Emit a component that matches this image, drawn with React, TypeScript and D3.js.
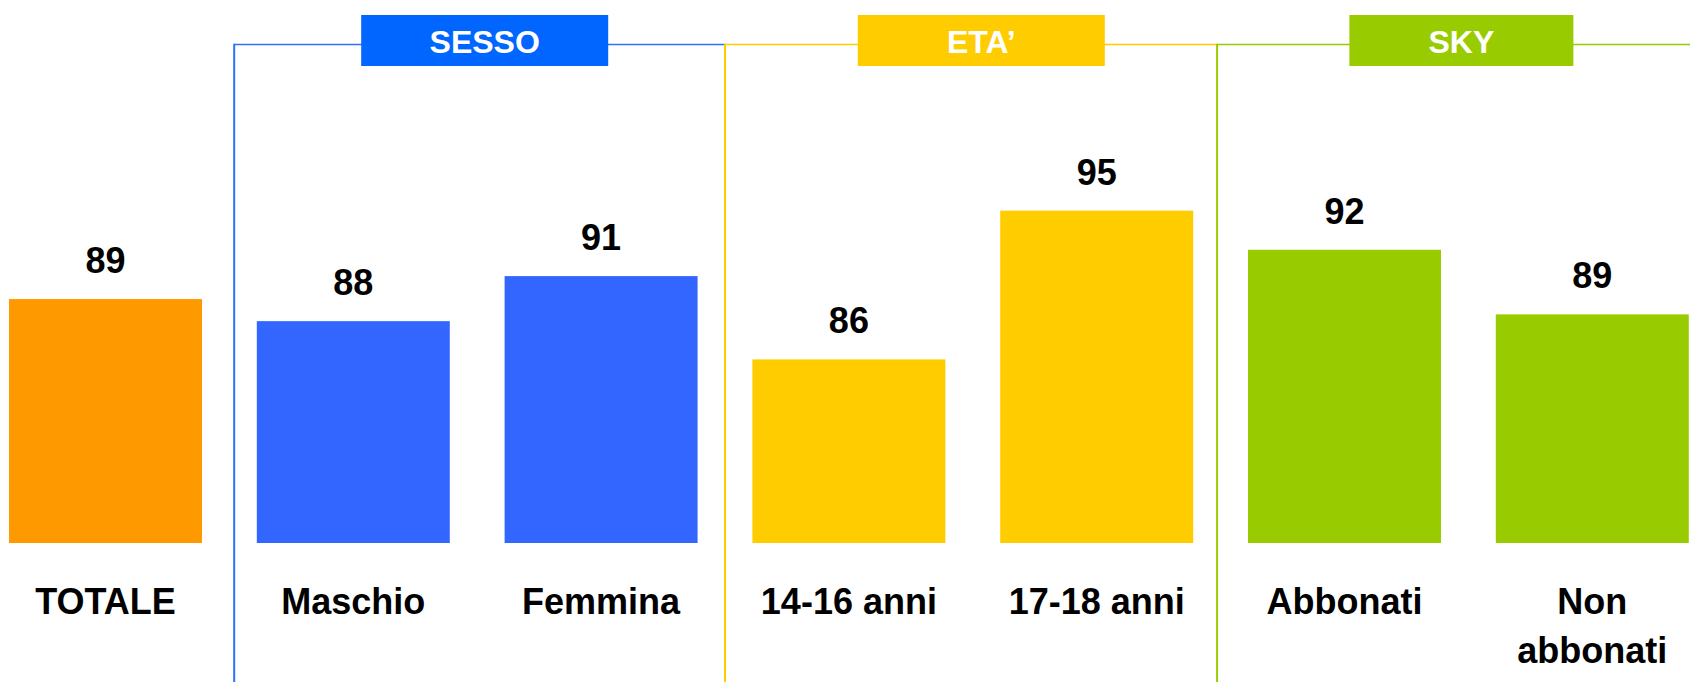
import React from "react";
import * as d3 from "d3";

// ---- data ----
const categories = ["TOTALE", "Maschio", "Femmina", "14-16 anni", "17-18 anni", "Abbonati", "Non abbonati"];
const values = [89.45, 88.15, 90.8, 85.9, 94.65, 92.35, 88.55];
const barColors = ["#FF9900", "#3366FF", "#3366FF", "#FFCC00", "#FFCC00", "#99CC00", "#99CC00"];
const groupNames = ["SESSO", "ETA\u2019", "SKY"];
const groupMembers = [
  ["Maschio", "Femmina"],
  ["14-16 anni", "17-18 anni"],
  ["Abbonati", "Non abbonati"],
];
const groupBoxColors = ["#0066FF", "#FFCC00", "#99CC00"];
const groupLineColors = ["#2A72FF", "#FFCC00", "#99CC00"];

// ---- layout / style ----
const W = 1690;
const H = 682;
const BASE = 543;
const FONT = "'Liberation Sans', Arial, Helvetica, sans-serif";
const boxWidths = [247, 247, 224];
const boxOffsets = [7.5, 8.5, -7];
const dividerOffsets = [4.8, 0, -3.5];

export default function App() {
  const step = 247.8;
  const x0 = 9 - 0.1106 * step;
  const x = d3
    .scaleBand<string>()
    .domain(categories)
    .range([x0, x0 + categories.length * step])
    .paddingInner(0.2212)
    .paddingOuter(0.1106);
  const y = d3.scaleLinear().domain([75.1, 100]).range([BASE, BASE - 24.9 * 17]);
  const bw = x.bandwidth();

  const dividers = groupMembers.map((m, gi) => {
    const i = categories.indexOf(m[0]);
    const prevEnd = (x(categories[i - 1]) as number) + bw;
    return (prevEnd + (x(m[0]) as number)) / 2 + dividerOffsets[gi];
  });

  return (
    <svg
      width={W}
      height={H}
      style={{ position: "absolute", left: 0, top: 0, display: "block", background: "#fff" }}
    >
      {/* group frames */}
      {groupMembers.map((m, gi) => {
        const left = dividers[gi];
        const right = gi < dividers.length - 1 ? dividers[gi + 1] : W;
        const first = x(m[0]) as number;
        const last = (x(m[m.length - 1]) as number) + bw;
        const cx = (first + last) / 2 + boxOffsets[gi];
        const bwBox = boxWidths[gi];
        return (
          <g key={"g" + gi}>
            <line x1={left} x2={right} y1={44.5} y2={44.5} stroke={groupLineColors[gi]} strokeWidth={1.6} />
            <line x1={left} x2={left} y1={43.7} y2={H} stroke={groupLineColors[gi]} strokeWidth={2} />
            <rect x={cx - bwBox / 2} y={15} width={bwBox} height={51} fill={groupBoxColors[gi]} />
            <text
              x={cx}
              y={53}
              textAnchor="middle"
              fill="#fff"
              fontFamily={FONT}
              fontWeight="bold"
              fontSize={32}
            >
              {groupNames[gi]}
            </text>
          </g>
        );
      })}

      {/* bars */}
      {categories.map((c, i) => (
        <rect
          key={"b" + i}
          x={x(c) as number}
          y={y(values[i])}
          width={bw}
          height={BASE - y(values[i])}
          fill={barColors[i]}
        />
      ))}

      {/* value labels */}
      {categories.map((c, i) => (
        <text
          key={"v" + i}
          x={(x(c) as number) + bw / 2}
          y={y(values[i]) - 26}
          textAnchor="middle"
          fontFamily={FONT}
          fontWeight="bold"
          fontSize={36}
          fill="#000"
        >
          {d3.format(".0f")(values[i])}
        </text>
      ))}

      {/* category labels */}
      {categories.map((c, i) => {
        const words = c === "Non abbonati" ? ["Non", "abbonati"] : [c];
        return (
          <text
            key={"c" + i}
            x={(x(c) as number) + bw / 2}
            y={614}
            textAnchor="middle"
            fontFamily={FONT}
            fontWeight="bold"
            fontSize={36}
            fill="#000"
          >
            {words.map((w, wi) => (
              <tspan key={wi} x={(x(c) as number) + bw / 2} dy={wi === 0 ? 0 : 49}>
                {w}
              </tspan>
            ))}
          </text>
        );
      })}
    </svg>
  );
}
